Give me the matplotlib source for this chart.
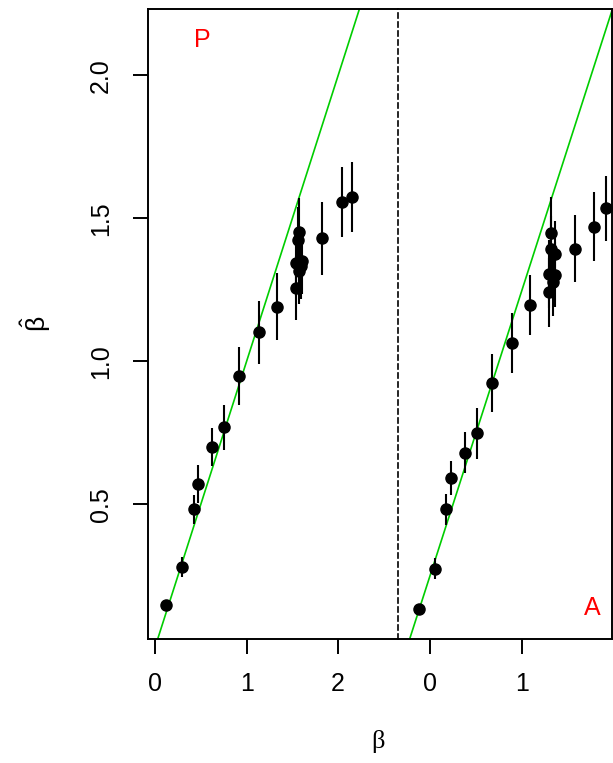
import matplotlib
matplotlib.use("Agg")
import matplotlib.pyplot as plt

plt.rcParams['font.family'] = ['Liberation Sans', 'DejaVu Sans']
plt.rcParams['mathtext.default'] = 'regular'

# panel P
p_beta = [0.12, 0.29, 0.42, 0.47, 0.62, 0.75, 0.92, 1.14, 1.33, 1.535,
          1.571, 1.567, 1.542, 1.607, 1.593, 1.575, 1.82, 2.04, 2.157]
p_hat = [0.147, 0.281, 0.483, 0.571, 0.701, 0.769, 0.948, 1.102, 1.191, 1.256,
         1.453, 1.424, 1.345, 1.352, 1.333, 1.317, 1.430, 1.558, 1.576]
p_err = [0.01, 0.034, 0.051, 0.068, 0.066, 0.079, 0.102, 0.110, 0.118, 0.112,
         0.117, 0.115, 0.115, 0.115, 0.115, 0.115, 0.128, 0.122, 0.123]

# panel A
a_beta = [-0.123, 0.051, 0.178, 0.228, 0.377, 0.508, 0.678, 0.896, 1.084,
          1.319, 1.312, 1.355, 1.293, 1.353, 1.334, 1.290, 1.576, 1.787, 1.907]
a_hat = [0.132, 0.274, 0.482, 0.592, 0.681, 0.748, 0.923, 1.065, 1.197,
         1.448, 1.392, 1.374, 1.306, 1.303, 1.276, 1.241, 1.394, 1.471, 1.535]
a_err = [0.012, 0.037, 0.055, 0.061, 0.073, 0.090, 0.101, 0.105, 0.106,
         0.126, 0.118, 0.118, 0.118, 0.113, 0.117, 0.120, 0.117, 0.120, 0.114]
a_shift = 0.25

green = '#00CD00'
fs = 18

fig = plt.figure(figsize=(6.13, 7.63), dpi=100)
ax1 = fig.add_axes([0.241, 0.1625, 0.409, 0.8255])
ax2 = fig.add_axes([0.650, 0.1625, 0.348, 0.8255], sharey=ax1)

ylim = (0.0287, 2.232)
for ax, xs, ys, es, xlim, shift in [(ax1, p_beta, p_hat, p_err, (-0.080, 2.659), 0.0),
                                     (ax2, a_beta, a_hat, a_err, (-0.343, 1.975), a_shift)]:
    ax.set_xlim(*xlim)
    ax.set_ylim(*ylim)
    ax.plot(xlim, [xlim[0] + shift, xlim[1] + shift], color=green, lw=1.2, zorder=1)
    ax.errorbar(xs, ys, yerr=es, fmt='o', color='black', ms=8, elinewidth=1.5,
                capsize=0, zorder=3)
    for s in ax.spines.values():
        s.set_linewidth(1.4)
    ax.tick_params(axis='x', direction='out', length=11, width=1.4,
                   labelsize=fs, pad=13)

ax1.set_xticks([0, 1, 2])
ax2.set_xticks([0, 1])
ax1.spines['right'].set_visible(False)
ax2.spines['left'].set_linestyle((0, (3, 2.4)))
ax2.spines['left'].set_linewidth(1.2)
ax2.tick_params(axis='y', left=False, labelleft=False)

ax1.set_yticks([0.5, 1.0, 1.5, 2.0])
ax1.set_yticklabels(['0.5', '1.0', '1.5', '2.0'], rotation=90, va='center')
ax1.tick_params(axis='y', direction='out', length=11, width=1.4,
                labelsize=fs, pad=14)

ax1.text(0.513, 2.124, 'P', color='red', fontsize=fs, ha='center', va='center')
ax2.text(1.768, 0.136, 'A', color='red', fontsize=fs, ha='center', va='center')

fig.text(0.617, 0.028, 'β', fontsize=fs + 1, ha='center', va='center',
         family=['Liberation Serif', 'DejaVu Serif'])
fig.text(0.058, 0.576, r'$\hat{\beta}$', fontsize=fs + 1, ha='center', va='center',
         rotation=90)

fig.savefig('out.png', dpi=100)
